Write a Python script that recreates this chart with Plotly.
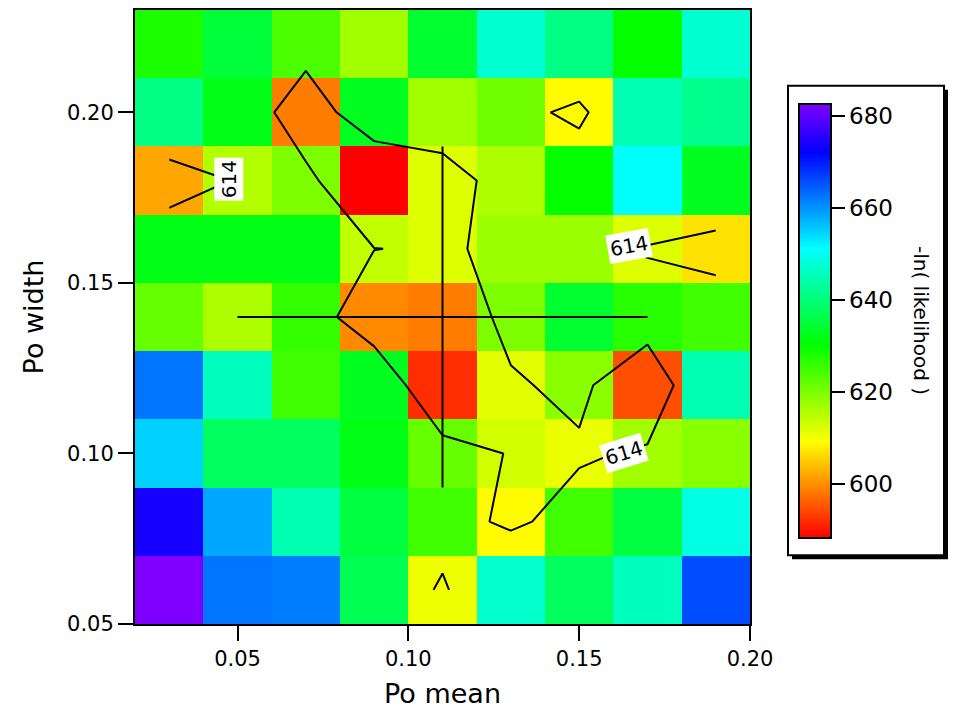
import colorsys
import plotly.graph_objects as go

# Grid of fit parameters (cell centres)
po_mean = [0.03, 0.05, 0.07, 0.09, 0.11, 0.13, 0.15, 0.17, 0.19]
po_width = [0.06, 0.08, 0.10, 0.12, 0.14, 0.16, 0.18, 0.20, 0.22]

# -ln(likelihood), one list per Po width row (bottom to top)
nll_w006 = [683.0, 662.6, 662.0, 637.0, 610.5, 647.0, 638.0, 646.0, 666.0]
nll_w008 = [674.0, 658.5, 645.0, 635.5, 625.0, 609.0, 625.0, 635.5, 649.0]
nll_w010 = [655.0, 638.0, 638.0, 632.0, 622.0, 613.0, 611.0, 617.0, 619.0]
nll_w012 = [662.6, 646.0, 625.0, 633.0, 592.0, 611.5, 619.0, 594.7, 645.0]
nll_w014 = [622.0, 616.0, 626.0, 599.6, 598.5, 620.0, 634.0, 627.0, 625.0]
nll_w016 = [632.0, 632.0, 632.0, 614.3, 612.0, 617.5, 617.5, 612.0, 607.0]
nll_w018 = [602.0, 615.5, 620.0, 588.0, 612.0, 616.0, 630.0, 651.0, 633.0]
nll_w020 = [641.0, 632.0, 598.5, 633.0, 617.0, 621.0, 609.0, 645.0, 642.0]
nll_w022 = [628.0, 635.0, 624.0, 617.0, 634.0, 647.5, 641.0, 630.0, 647.5]
nll = [nll_w006, nll_w008, nll_w010, nll_w012, nll_w014,
       nll_w016, nll_w018, nll_w020, nll_w022]

# Confidence contour level
contour_level = 614

# Best estimate and its uncertainty
best_mean = [0.11]
best_width = [0.14]
err_mean = [0.06]
err_width = [0.05]

x_ticks = [0.05, 0.10, 0.15, 0.20]
y_ticks = [0.05, 0.10, 0.15, 0.20]
cbar_ticks = [600, 620, 640, 660, 680]

zmin, zmax = 588.3, 682.7

# Rainbow table: red -> yellow -> green -> cyan -> blue -> violet
n_stops = 37
rainbow = []
for i in range(n_stops):
    t = i / (n_stops - 1)
    r, g, b = colorsys.hsv_to_rgb(t * 270.0 / 360.0, 1.0, 1.0)
    rainbow.append([t, f"rgb({round(r*255)},{round(g*255)},{round(b*255)})"])

FONT = "DejaVu Sans"

# Pixel helpers for items placed outside the plot area
PL, PR, PT, PB = 135, 750, 8, 624


def px(xp):
    return (xp - PL) / (PR - PL)


def py(yp):
    return (PB - yp) / (PB - PT)


fig = go.Figure()

fig.add_trace(go.Heatmap(
    x=po_mean, y=po_width, z=nll,
    colorscale=rainbow, zmin=zmin, zmax=zmax, zsmooth=False,
    colorbar=dict(
        x=px(799), xanchor="left", xpad=0,
        y=py(319.7), yanchor="middle", ypad=0,
        len=434, lenmode="pixels", thickness=32, thicknessmode="pixels",
        outlinewidth=2, outlinecolor="black",
        tickvals=cbar_ticks, ticks="outside", ticklen=13, tickwidth=2,
        tickcolor="black",
        tickfont=dict(family=FONT, size=23, color="black"),
    ),
    hoverinfo="skip",
))

fig.add_trace(go.Contour(
    x=po_mean, y=po_width, z=nll,
    contours=dict(start=contour_level, end=contour_level, size=1,
                  coloring="none", showlabels=False),
    line=dict(color="black", width=2, smoothing=0),
    showscale=False, hoverinfo="skip",
))

fig.add_trace(go.Scatter(
    x=best_mean, y=best_width, mode="markers",
    marker=dict(size=1, color="black", opacity=0),
    error_x=dict(type="data", array=err_mean, symmetric=True,
                 color="black", thickness=2, width=0),
    error_y=dict(type="data", array=err_width, symmetric=True,
                 color="black", thickness=2, width=0),
    showlegend=False, hoverinfo="skip",
))

# Contour level labels
label_spots = [
    (0.0475, 0.1804, -90),
    (0.1646, 0.1608, -10),
    (0.1631, 0.1000, -17),
]
for lx, ly, ang in label_spots:
    fig.add_annotation(
        x=lx, y=ly, xref="x", yref="y", text=str(contour_level),
        xanchor="center", yanchor="middle",
        showarrow=False, textangle=ang, bgcolor="white", borderpad=2,
        font=dict(family=FONT, size=20, color="black"),
    )

# Colour bar title
fig.add_annotation(
    x=px(921), y=py(319), xref="paper", yref="paper",
    xanchor="center", yanchor="middle",
    text="-ln( likelihood )", showarrow=False, textangle=90,
    font=dict(family=FONT, size=20, color="black"),
)

# Framed box with drop shadow around the colour bar
fig.add_shape(type="rect", xref="paper", yref="paper",
              x0=px(792), x1=px(948), y0=py(559), y1=py(88),
              fillcolor="black", line=dict(width=0), layer="above")
fig.add_shape(type="rect", xref="paper", yref="paper",
              x0=px(788), x1=px(944), y0=py(555), y1=py(84),
              fillcolor="white", line=dict(color="black", width=2),
              layer="above")

axis_common = dict(
    ticks="outside", ticklen=15, tickwidth=2, tickcolor="black",
    showline=True, linewidth=2, linecolor="black", mirror=True,
    showgrid=False, zeroline=False,
    tickfont=dict(family=FONT, size=21, color="black"),
)

fig.update_layout(
    width=956, height=713,
    margin=dict(l=PL, r=956 - PR, t=PT, b=713 - PB),
    paper_bgcolor="white", plot_bgcolor="white",
    showlegend=False,
    xaxis=dict(range=[0.02, 0.20], tickvals=x_ticks,
               ticktext=[f"{v:.2f}" for v in x_ticks],
               title=dict(text="Po mean", standoff=14,
                          font=dict(family=FONT, size=27, color="black")),
               **axis_common),
    yaxis=dict(range=[0.05, 0.23], tickvals=y_ticks,
               ticktext=[f"{v:.2f}" for v in y_ticks],
               title=dict(text="Po width", standoff=16,
                          font=dict(family=FONT, size=27, color="black")),
               **axis_common),
)

fig.write_html("out.html")
